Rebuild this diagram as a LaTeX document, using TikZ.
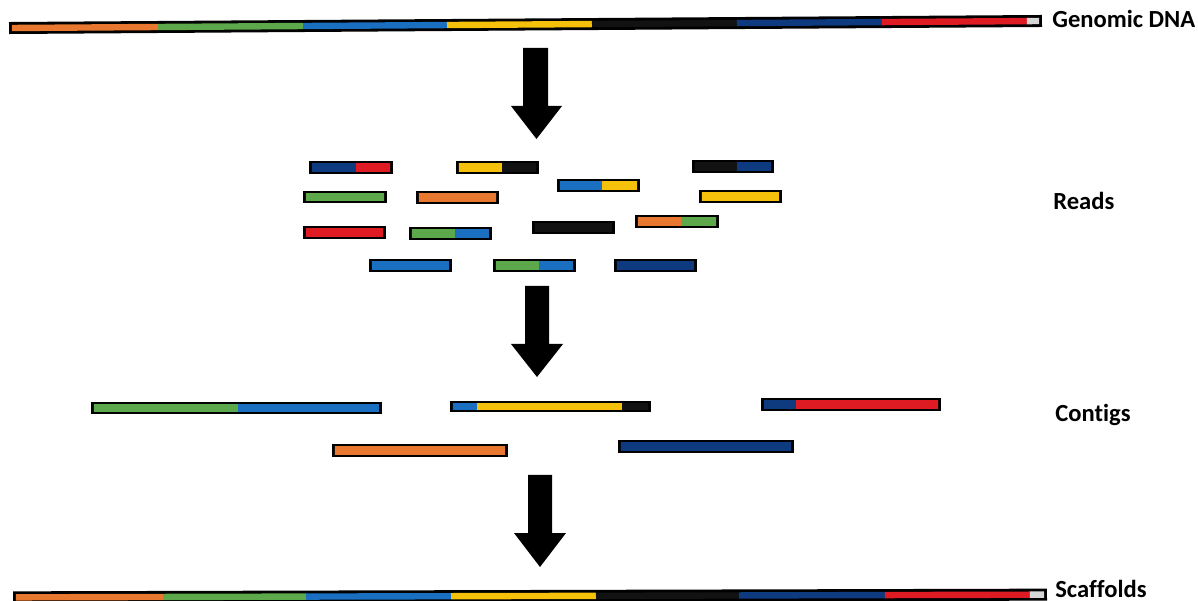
\documentclass[tikz,border=0pt]{standalone}
\usepackage{fontspec}
\setmainfont{Carlito}[Ligatures=NoCommon]
\definecolor{dorange}{HTML}{E8782F}
\definecolor{dgreen}{HTML}{5DA84A}
\definecolor{dblue}{HTML}{1A6FC1}
\definecolor{dyellow}{HTML}{F6C10A}
\definecolor{dblack}{HTML}{121212}
\definecolor{dnavy}{HTML}{0E3A80}
\definecolor{dred}{HTML}{DE1B22}
\definecolor{dgray}{HTML}{D6D6D6}
\newcommand\dnabar[5]{%
  \fill[black] (#1,#2) rectangle (#3,#4);
  \begin{scope}
    \clip (#1+2.8,#2+2.8) rectangle (#3-2.8,#4-2.8);
    \foreach \a/\b/\c in {#5} {\fill[fill=\c] (\a,#2) rectangle (\b,#4);}
  \end{scope}}
\tikzset{
  lab/.style={font=\bfseries\fontsize{14pt}{16pt}\selectfont, text=black, inner sep=0pt, anchor=base west},
  blockarrow/.style={fill=black, draw=none}
}
\begin{document}
\begin{tikzpicture}[x=0.02cm, y=-0.02cm]
\useasboundingbox (0,0) rectangle (1198,601);
\clip (0,0) rectangle (1198,601);
\fill[white] (0,0) rectangle (1198,601);

% Genomic DNA
\begin{scope}[rotate around={0.39:(525.5,24.5)}]
\dnabar{9}{18.5}{1042}{30.5}{9/158/dorange,158/303/dgreen,303/447/dblue,447/592/dyellow,592/737/dblack,737/882/dnavy,882/1027/dred,1027/1042/dgray}
\end{scope}
\node[lab] (genomic) at (1052,28) {Genomic DNA};

% arrow 1
\fill[blockarrow] (523,48) -- (548,48) -- (548,106) -- (562,106) -- (536.5,139) -- (511,106) -- (523,106) -- cycle;

% Reads
\dnabar{309}{161}{393}{174}{309/356/dnavy,356/393/dred}
\dnabar{456}{161}{539}{174}{456/502/dyellow,502/539/dblack}
\dnabar{692}{160}{774}{173}{692/737/dblack,737/774/dnavy}
\dnabar{557}{179}{640}{192}{557/602/dblue,602/640/dyellow}
\dnabar{303}{191}{387}{203}{303/387/dgreen}
\dnabar{416}{191}{499}{204}{416/499/dorange}
\dnabar{699}{190}{782}{203}{699/782/dyellow}
\dnabar{303}{226}{386}{239}{303/386/dred}
\dnabar{409}{227}{492}{240}{409/455/dgreen,455/492/dblue}
\dnabar{532}{221}{615}{234}{532/615/dblack}
\dnabar{635}{215}{719}{228}{635/681/dorange,681/719/dgreen}
\dnabar{369}{259}{452}{272}{369/452/dblue}
\dnabar{493}{259}{576}{272}{493/539/dgreen,539/576/dblue}
\dnabar{614}{259}{697}{272}{614/697/dnavy}
\node[lab] (reads) at (1053,210) {Reads};

% arrow 2
\fill[blockarrow] (525,286) -- (549,286) -- (549,344) -- (563,344) -- (537,377) -- (511,344) -- (525,344) -- cycle;

% Contigs
\dnabar{91}{402}{382}{414}{91/238/dgreen,238/382/dblue}
\dnabar{450}{401}{651}{412}{450/477/dblue,477/622/dyellow,622/651/dblack}
\dnabar{332}{444}{508}{457}{332/508/dorange}
\dnabar{761}{398}{941}{411}{761/796/dnavy,796/941/dred}
\dnabar{618}{440}{794}{453}{618/794/dnavy}
\node[lab] (contigs) at (1055,421) {Contigs};

% arrow 3
\fill[blockarrow] (528,475) -- (552,475) -- (552,533) -- (566,533) -- (540,567) -- (514,533) -- (528,533) -- cycle;

% Scaffolds
\begin{scope}[rotate around={0.15:(530,596)}]
\dnabar{13}{590}{1047}{602}{13/163/dorange,163/306/dgreen,306/451/dblue,451/596/dyellow,596/739/dblack,739/885/dnavy,885/1030/dred,1030/1047/dgray}
\end{scope}
\node[lab] (scaffolds) at (1055,597) {Scaffolds};
\end{tikzpicture}
\end{document}
